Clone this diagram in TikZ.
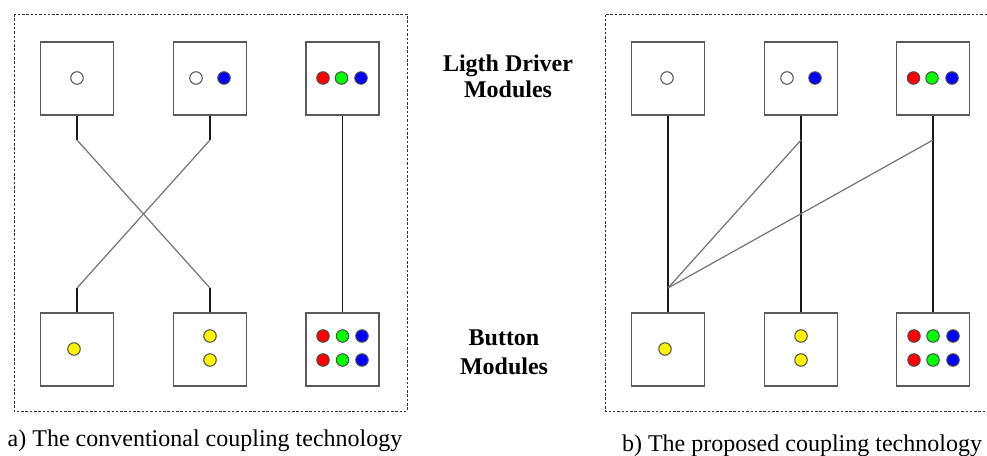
\documentclass[tikz,border=0pt]{standalone}
\usepackage{fontspec}
\setmainfont{Liberation Serif}
\begin{document}
\begin{tikzpicture}[x=1pt,y=-1pt,
  box/.style={draw=black!65, line width=1.5pt, minimum size=73pt, inner sep=0pt, fill=white},
  led/.style={circle, draw=black!70, line width=1pt, minimum size=12.5pt, inner sep=0pt},
  stub/.style={draw=black!90, line width=1.1pt},
  diag/.style={draw=black!55, line width=1.2pt},
  frame/.style={draw=black!80, line width=0.9pt, dash pattern=on 2.5pt off 1.8pt},
  lbl/.style={font=\fontsize{24}{26}\selectfont\bfseries, align=center, inner sep=0pt},
  lblb/.style={font=\fontsize{24}{29}\selectfont\bfseries, align=center, inner sep=0pt},
  captxt/.style={font=\fontsize{24}{28}\selectfont, inner sep=0pt}]
\useasboundingbox (0,0) rectangle (987,455);
% frames
\draw[frame] (14,14) rectangle (407,411);
\draw[frame] (987,14) -- (605,14) -- (605,411) -- (987,411);

% ---------- left panel ----------
\node[box] (aL1) at (77,78.5) {};
\node[box] (aL2) at (210,78.5) {};
\node[box] (aL3) at (342.5,78.5) {};
\node[box] (aB1) at (77,349.5) {};
\node[box] (aB2) at (210,349.5) {};
\node[box] (aB3) at (342.5,349.5) {};

\node[led, fill=white] (aL1w) at (77,78) {};
\node[led, fill=white] (aL2w) at (196,78) {};
\node[led, fill=blue] (aL2b) at (224,78) {};
\node[led, fill=red] (aL3r) at (323,78) {};
\node[led, fill=green] (aL3g) at (341.5,78) {};
\node[led, fill=blue] (aL3b) at (361,78) {};

\node[led, fill=yellow] (aB1y) at (74,349) {};
\node[led, fill=yellow] (aB2y1) at (210,336) {};
\node[led, fill=yellow] (aB2y2) at (210,360) {};
\node[led, fill=red] (aB3r1) at (323,336) {};
\node[led, fill=green] (aB3g1) at (342.5,336) {};
\node[led, fill=blue] (aB3b1) at (362,336) {};
\node[led, fill=red] (aB3r2) at (323,360) {};
\node[led, fill=green] (aB3g2) at (342.5,360) {};
\node[led, fill=blue] (aB3b2) at (362,360) {};

\coordinate (a1t) at (77,140);
\coordinate (a2t) at (210,140);
\coordinate (a1b) at (77,288);
\coordinate (a2b) at (210,288);
\draw[stub] (aL1.south) -- (a1t);
\draw[stub] (aL2.south) -- (a2t);
\draw[stub] (aB1.north) -- (a1b);
\draw[stub] (aB2.north) -- (a2b);
\draw[diag] (a1t) -- (a2b);
\draw[diag] (a2t) -- (a1b);
\draw[stub] (aL3.south) -- (aB3.north);

% ---------- right panel ----------
\node[box] (bL1) at (668,78.5) {};
\node[box] (bL2) at (801,78.5) {};
\node[box] (bL3) at (933,78.5) {};
\node[box] (bB1) at (668,349.5) {};
\node[box] (bB2) at (801,349.5) {};
\node[box] (bB3) at (933,349.5) {};

\node[led, fill=white] (bL1w) at (667,78) {};
\node[led, fill=white] (bL2w) at (787,78) {};
\node[led, fill=blue] (bL2b) at (815,78) {};
\node[led, fill=red] (bL3r) at (913.5,78) {};
\node[led, fill=green] (bL3g) at (932,78) {};
\node[led, fill=blue] (bL3b) at (952,78) {};

\node[led, fill=yellow] (bB1y) at (665,349) {};
\node[led, fill=yellow] (bB2y1) at (801,336) {};
\node[led, fill=yellow] (bB2y2) at (801,360) {};
\node[led, fill=red] (bB3r1) at (914,336) {};
\node[led, fill=green] (bB3g1) at (933,336) {};
\node[led, fill=blue] (bB3b1) at (953,336) {};
\node[led, fill=red] (bB3r2) at (914,360) {};
\node[led, fill=green] (bB3g2) at (933,360) {};
\node[led, fill=blue] (bB3b2) at (953,360) {};

\coordinate (b2t) at (801,140);
\coordinate (b3t) at (933,140);
\coordinate (b1b) at (668,288);
\draw[stub] (bL1.south) -- (bB1.north);
\draw[stub] (bL2.south) -- (bB2.north);
\draw[stub] (bL3.south) -- (bB3.north);
\draw[diag] (b2t) -- (b1b);
\draw[diag] (b3t) -- (b1b);

% ---------- labels ----------
\node[lbl] (ldm) at (508,76) {Ligth Driver\\Modules};
\node[lblb] (bm) at (504,352.5) {Button\\Modules};
\node[captxt] (capa) at (205,441) {a) The conventional coupling technology};
\node[captxt] (capb) at (802,446) {b) The proposed coupling technology};
\end{tikzpicture}
\end{document}
